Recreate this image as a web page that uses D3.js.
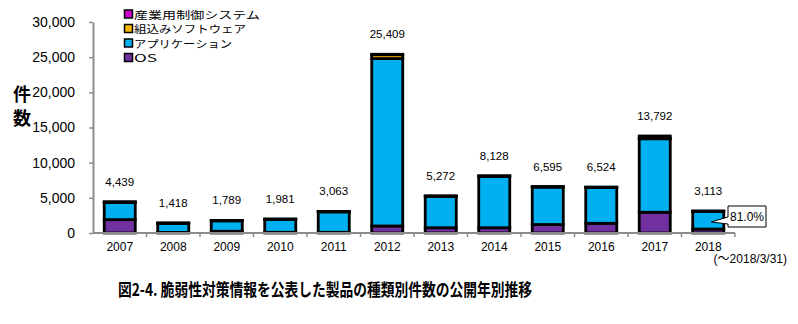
<!DOCTYPE html>
<html>
<head>
<meta charset="utf-8">
<script src="https://cdn.jsdelivr.net/npm/d3@7"></script>
<style>
  body { margin: 0; background: #fff; }
  svg { display: block; }
</style>
</head>
<body>
<svg id="chart" width="798" height="324"></svg>
<script>
// Published vulnerability countermeasure info, by product type and year
const years = ["2007","2008","2009","2010","2011","2012","2013","2014","2015","2016","2017","2018"];
const totals = [4439, 1418, 1789, 1981, 3063, 25409, 5272, 8128, 6595, 6524, 13792, 3113];
const osCounts =       [1900,   80,  250,  100,  100,  1000,  750,  750, 1200, 1380, 2950,  560];
const appCounts =      [2450, 1300, 1480, 1830, 2900, 23800, 4450, 7300, 5330, 5080, 10450, 2521];
const embeddedCounts = [  50,   30,   40,   40,   50,   550,   50,   50,   40,   40,   80,   20];
const industrialCounts = totals.map((t, i) => t - osCounts[i] - appCounts[i] - embeddedCounts[i]);
const yTicks = [0, 5000, 10000, 15000, 20000, 25000, 30000];

const seriesNames = ["OS", "アプリケーション", "組込みソフトウェア", "産業用制御システム"];
const seriesColors = ["#7030A0", "#00B0F0", "#F5B800", "#CC00CC"];
const seriesValues = [osCounts, appCounts, embeddedCounts, industrialCounts];

const rows = years.map((y, i) => {
  const r = { year: y };
  seriesNames.forEach((n, k) => r[n] = seriesValues[k][i]);
  return r;
});

const svg = d3.select("#chart");
svg.append("rect").attr("width", 798).attr("height", 324).attr("fill", "#fff");

const x = d3.scaleBand().domain(years).range([93, 735]).paddingInner(0.42).paddingOuter(0.21);
const y = d3.scaleLinear().domain([0, 30000]).range([233, 22]);

const axisColor = "#8c8c8c";

// Y axis
const yAxis = svg.append("g").attr("transform", "translate(93,0)")
  .call(d3.axisLeft(y).tickValues(yTicks).tickFormat(d3.format(",")).tickSize(4).tickPadding(14).tickSizeOuter(0));
yAxis.select(".domain").attr("stroke", axisColor).attr("stroke-width", 2);
yAxis.selectAll(".tick line").attr("stroke", axisColor).attr("stroke-width", 1.5);
yAxis.selectAll(".tick text").attr("font-family", "'Liberation Sans', Arial, sans-serif")
  .attr("font-size", 14).attr("fill", "#000");

// Stacked bars
const stack = d3.stack().keys(seriesNames);
const layers = stack(rows);
svg.append("g").selectAll("g").data(layers).join("g")
  .attr("fill", (d, i) => seriesColors[i])
  .selectAll("rect").data(d => d).join("rect")
  .attr("x", d => x(d.data.year))
  .attr("width", x.bandwidth())
  .attr("y", d => y(d[1]))
  .attr("height", d => y(d[0]) - y(d[1]))
  .attr("stroke", "#000")
  .attr("stroke-width", 2.8);

// X axis line and boundary ticks
svg.append("line").attr("x1", 93).attr("x2", 735).attr("y1", 233).attr("y2", 233)
  .attr("stroke", axisColor).attr("stroke-width", 2);
svg.append("g").selectAll("line").data(years).join("line")
  .attr("x1", d => x(d) + x.bandwidth() / 2 + x.step() / 2)
  .attr("x2", d => x(d) + x.bandwidth() / 2 + x.step() / 2)
  .attr("y1", 233).attr("y2", 237)
  .attr("stroke", axisColor).attr("stroke-width", 1.5);

const xAxis = svg.append("g").attr("transform", "translate(0,233)")
  .call(d3.axisBottom(x).tickSize(0).tickPadding(9));
xAxis.select(".domain").remove();
xAxis.selectAll(".tick text").attr("font-family", "'Liberation Sans', Arial, sans-serif")
  .attr("font-size", 12).attr("fill", "#000");

// Total labels above bars
svg.append("g").selectAll("text").data(years).join("text")
  .attr("x", d => x(d) + x.bandwidth() / 2)
  .attr("y", (d, i) => y(totals[i]) - 16)
  .attr("text-anchor", "middle")
  .attr("font-family", "'Liberation Sans', Arial, sans-serif")
  .attr("font-size", 11.5)
  .attr("fill", "#000")
  .text((d, i) => d3.format(",")(totals[i]));

// Period note under the last year
svg.append("text").attr("x", 787).attr("y", 263).attr("text-anchor", "end")
  .attr("font-family", "'Liberation Sans', 'Noto Sans CJK JP', sans-serif").attr("font-size", 12)
  .text("(～2018/3/31)");

// Share callout for the application segment in the latest year
const last = years.length - 1;
const share = appCounts[last] / totals[last];
const tipX = x(years[last]) + x.bandwidth() / 2 + 3;
const tipY = y(osCounts[last] + appCounts[last] * 0.4);
const bx = 728, by = 206, bw = 38, bh = 21;
svg.append("path")
  .attr("d", `M${bx},${by} H${bx + bw} V${by + bh} H${bx} V${by + 18} L${tipX},${tipY} L${bx},${by + 11} Z`)
  .attr("fill", "#fff").attr("stroke", "#000").attr("stroke-width", 1);
svg.append("text").attr("x", bx + bw / 2).attr("y", by + 15).attr("text-anchor", "middle")
  .attr("font-family", "'Liberation Sans', Arial, sans-serif").attr("font-size", 12)
  .text(d3.format(".1%")(share));

// Y axis title (vertical)
const yTitle = svg.append("text").attr("font-family", "'Noto Sans CJK JP', sans-serif")
  .attr("font-weight", "bold").attr("font-size", 18).attr("text-anchor", "middle");
yTitle.append("tspan").attr("x", 22).attr("y", 101).text("件");
yTitle.append("tspan").attr("x", 22).attr("y", 125).text("数");

// Legend
const legendOrder = [3, 2, 1, 0];
const legendWidths = [126, 112, 98, 23];
const legend = svg.append("g").selectAll("g").data(legendOrder).join("g")
  .attr("transform", (d, i) => `translate(124,${14 + i * 14.5})`);
legend.append("rect").attr("x", 0.5).attr("y", -4).attr("width", 8).attr("height", 8)
  .attr("fill", d => seriesColors[d]).attr("stroke", "#000").attr("stroke-width", 1.5);
legend.append("text").attr("x", 10).attr("y", 4.5)
  .attr("font-family", "'Noto Sans CJK JP', sans-serif").attr("font-size", 10.5)
  .attr("textLength", (d, i) => legendWidths[i]).attr("lengthAdjust", "spacingAndGlyphs")
  .text(d => seriesNames[d]);

// Figure caption
svg.append("text").attr("x", 118).attr("y", 296)
  .attr("font-family", "'Noto Sans CJK JP', sans-serif").attr("font-weight", "bold")
  .attr("font-size", 17.5).attr("textLength", 414).attr("lengthAdjust", "spacingAndGlyphs")
  .text("図2-4. 脆弱性対策情報を公表した製品の種類別件数の公開年別推移");
</script>
</body>
</html>
